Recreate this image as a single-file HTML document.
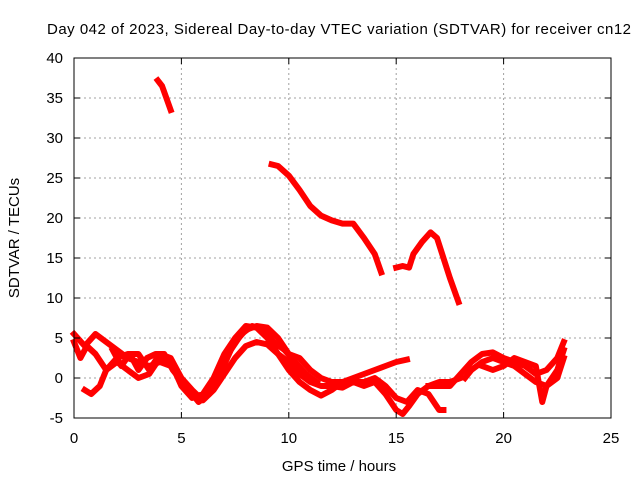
<!DOCTYPE html>
<html><head><meta charset="utf-8"><style>
body{margin:0;background:#fff}
svg text{font-family:"Liberation Sans",sans-serif;font-size:15px;fill:#000}
</style></head><body>
<svg id="chart" width="640" height="480">
<rect width="640" height="480" fill="#fff"/>
<g id="grid"></g><g id="series"></g>
<rect x="74" y="58" width="537" height="360" fill="none" stroke="#000" stroke-width="1"/>
<g id="ticks"></g>
<text x="339" y="34" text-anchor="middle" textLength="584">Day 042 of 2023, Sidereal Day-to-day VTEC variation (SDTVAR) for receiver cn12</text>
<text x="339" y="471" text-anchor="middle">GPS time / hours</text>
<text transform="translate(19,238) rotate(-90)" text-anchor="middle">SDTVAR / TECUs</text>
</svg>
<script>
const xTicks=[0,5,10,15,20,25];
const yTicks=[-5,0,5,10,15,20,25,30,35,40];
const s1=[[3.9,37.2],[4.1,36.5],[4.3,35],[4.5,33.5]];
const s2=[[9.2,26.7],[9.5,26.5],[10,25.3],[10.5,23.5],[11,21.5],[11.5,20.3],[12,19.7],[12.5,19.3],[13,19.3],[13.5,17.5],[14,15.5],[14.3,13.2]];
const s3=[[15,13.8],[15.3,14],[15.6,13.8],[15.8,15.5],[16.2,17],[16.6,18.2],[16.9,17.5],[17.2,15],[17.5,12.5],[17.9,9.5]];
const l1=[[0,5.5],[0.5,4],[1,5.5],[1.5,4.5],[2,3.5],[2.5,2.5],[3,2],[3.5,1.5],[4,2],[4.5,1.5],[5,-0.5],[5.5,-2],[6,-2.5],[6.5,-1],[7,2],[7.5,4.5],[8,6],[8.5,6.5],[9,6.3],[9.5,5],[10,3],[10.5,2.5],[11,1],[11.5,0],[12,-0.5],[12.5,-0.5],[13,0],[13.5,0.5],[14,1],[14.5,1.5],[15,2],[15.5,2.3]];
const l2=[[0,4.5],[0.3,2.5],[0.6,4],[1,3],[1.5,1],[2,2.5],[2.5,3],[3,3],[3.5,1],[4,3],[4.5,2.5],[5,0],[5.5,-1.5],[6,-2.8],[6.5,-1.5],[7,0.5],[7.5,2.5],[8,4],[8.5,4.5],[9,4.2],[9.5,3],[10,2],[10.5,0.5],[11,-0.5],[11.5,-1],[12,-1],[12.5,-1.2],[13,-0.5],[13.5,-1],[14,-0.5],[14.5,-2],[15,-4],[15.3,-4.5],[15.6,-3.5],[16,-2],[16.5,-1],[17,-0.5],[17.5,-0.5],[18,0]];
const l3=[[0.5,-1.5],[0.8,-2],[1.2,-1],[1.5,1],[2,2],[2.5,1],[3,0],[3.5,0.5],[4,2.5],[4.5,2],[5,-1],[5.5,-2.5],[6,-2],[6.5,0],[7,3],[7.5,5],[8,6.5],[8.5,6.3],[9,5],[9.5,3],[10,1],[10.5,-0.5],[11,-1.5],[11.5,-2.2],[12,-1.5],[12.5,-0.5],[13,-0.5],[13.5,-0.5],[14,0],[14.5,-1],[15,-2.5],[15.5,-3],[16,-1.5],[16.5,-2],[17,-4],[17.2,-4]];
const l4=[[16.5,-1],[17,-1],[17.5,-1],[18,0.5],[18.5,2],[19,3],[19.5,3.2],[20,2.5],[20.5,2],[21,1.5],[21.5,0.5],[22,1],[22.5,2.5],[22.8,4.5]];
const l5=[[18.2,0],[18.5,1],[19,2],[19.5,2.5],[20,2],[20.5,1.5],[21,0.5],[21.5,-0.5],[22,-1],[22.5,1],[22.8,3.5]];
const l6=[[19,1.5],[19.5,1],[20,1.5],[20.5,2.5],[21,2],[21.5,1.5],[21.8,-3],[22,-1],[22.5,0],[22.8,2.5]];
const l7=[[1.8,3.5],[2.2,1.5],[2.6,3],[3,1],[3.4,2.5],[3.8,3],[4.2,3],[4.6,1],[5.2,-1],[5.8,-3],[6.3,-2],[6.8,0.5],[7.3,3.5],[7.8,5.5],[8.3,6.5],[8.8,6],[9.3,4.5],[9.8,3.5],[10.3,2],[10.8,0.5],[11.3,-0.5]];
const allSeries=[s1,s2,s3,l1,l2,l3,l4,l5,l6,l7];
const X=v=>74+v*537/25, Y=v=>418-(v+5)*8;
const NS="http://www.w3.org/2000/svg";
const grid=document.getElementById('grid'),ticks=document.getElementById('ticks'),ser=document.getElementById('series');
function mk(tag,a,p){const e=document.createElementNS(NS,tag);for(const k in a)e.setAttribute(k,a[k]);p.appendChild(e);return e;}
xTicks.forEach(t=>{
 const g=mk('line',{x1:X(t),x2:X(t),y1:58,y2:418,stroke:'#a0a0a0','stroke-dasharray':'2,3'},grid);
 
 
 mk('line',{x1:X(t),x2:X(t),y1:418,y2:412,stroke:'#000'},ticks);
 mk('line',{x1:X(t),x2:X(t),y1:58,y2:64,stroke:'#000'},ticks);
 const tx=mk('text',{x:X(t),y:443,'text-anchor':'middle'},ticks);tx.textContent=t;
 
 
});
yTicks.forEach(t=>{
 const g=mk('line',{x1:74,x2:611,y1:Y(t),y2:Y(t),stroke:'#a0a0a0','stroke-dasharray':'2,3'},grid);
 
 
 mk('line',{x1:74,x2:80,y1:Y(t),y2:Y(t),stroke:'#000'},ticks);
 mk('line',{x1:605,x2:611,y1:Y(t),y2:Y(t),stroke:'#000'},ticks);
 const tx=mk('text',{x:63,y:Y(t)+5,'text-anchor':'end'},ticks);tx.textContent=t;
 
 
});
allSeries.forEach(s=>{
 const p=mk('polyline',{points:s.map(d=>X(d[0])+','+Y(d[1])).join(' '),fill:'none',stroke:'#ff0000','stroke-width':6,'stroke-linejoin':'round','stroke-linecap':'square'},ser);
 
 
});
</script>
</body></html>
